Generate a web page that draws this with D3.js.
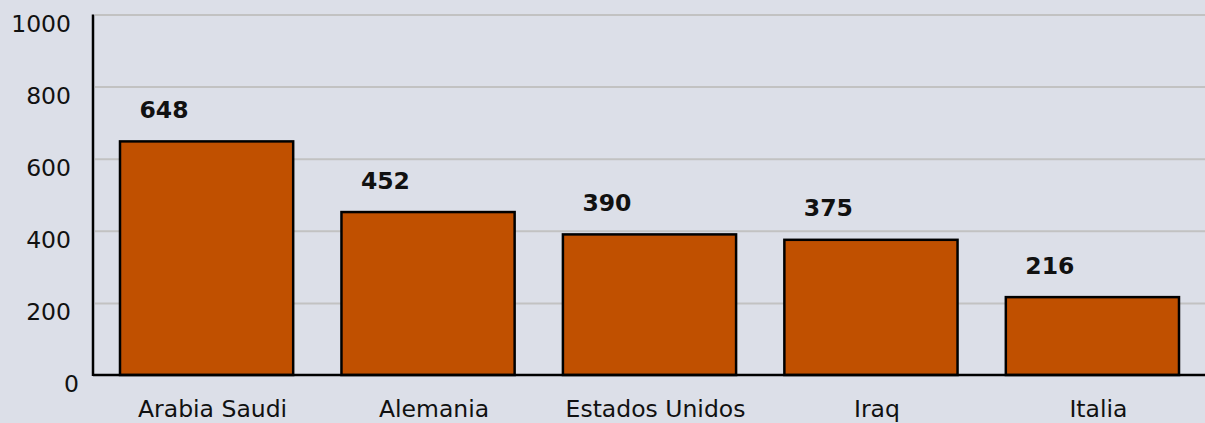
<!DOCTYPE html>
<html>
<head>
<meta charset="utf-8">
<script src="https://cdn.jsdelivr.net/npm/d3@7"></script>
<style>
  html, body { margin: 0; padding: 0; background: #dcdfe8; }
  svg { display: block; font-family: 'DejaVu Sans', Verdana, sans-serif; }
</style>
</head>
<body>
<svg class="svgChart"></svg>
<script>
// data
const countries = ['Arabia Saudi', 'Alemania', 'Estados Unidos', 'Iraq', 'Italia'];
const values = [648, 452, 390, 375, 216];
const yTicks = [0, 200, 400, 600, 800, 1000];

const W = 1205;
const H = 423;
const margin = { top: 14.5, right: 0, bottom: 48, left: 93 };
const baseY = H - margin.bottom;
const fontSize = 23.5;

const svg = d3.select('.svgChart')
  .attr('width', W)
  .attr('height', H);

svg.append('rect')
  .attr('width', W)
  .attr('height', H)
  .attr('fill', '#dcdfe8');

const yScale = d3.scaleLinear()
  .domain([0, 1000])
  .range([baseY, margin.top]);

const xScale = d3.scaleBand()
  .domain(countries)
  .range([120, 1179])
  .paddingInner(0.218)
  .paddingOuter(0);

//gridlines
svg.append('g')
  .attr('class', 'grid')
  .attr('transform', `translate(${margin.left + 2},0)`)
  .call(d3.axisLeft(yScale).tickValues(yTicks.slice(1)).tickSize(-(W - margin.left)).tickFormat(''))
  .call(g => g.select('.domain').remove())
  .selectAll('line')
    .attr('stroke', '#c2c2c2')
    .attr('stroke-width', 2);

//bars
svg.append('g')
  .selectAll('rect')
  .data(values)
  .enter()
  .append('rect')
    .attr('x', (d, i) => xScale(countries[i]))
    .attr('y', d => yScale(d))
    .attr('width', xScale.bandwidth())
    .attr('height', d => yScale(0) - yScale(d))
    .attr('fill', '#c05000')
    .attr('stroke', '#000')
    .attr('stroke-width', 2.5);

//value labels
svg.append('g')
  .selectAll('text')
  .data(values)
  .enter()
  .append('text')
    .attr('x', (d, i) => xScale(countries[i]) + 44)
    .attr('y', d => yScale(d) - 23.5)
    .attr('text-anchor', 'middle')
    .attr('font-size', fontSize)
    .attr('font-weight', 'bold')
    .attr('fill', '#111')
    .text(d => d);

//y axis labels
svg.append('g')
  .attr('class', 'yAxis')
  .attr('transform', 'translate(71,0)')
  .call(d3.axisLeft(yScale).tickValues(yTicks).tickSize(0).tickPadding(0).tickFormat(d3.format('d')))
  .call(g => g.select('.domain').remove())
  .selectAll('text')
    .attr('font-family', "'DejaVu Sans', Verdana, sans-serif")
    .attr('font-size', fontSize)
    .attr('fill', '#111')
    .attr('dy', '0.72em')
    .attr('x', d => d === 0 ? 8 : 0);

//category labels
svg.append('g')
  .selectAll('text')
  .data(countries)
  .enter()
  .append('text')
    .attr('x', d => xScale(d) + xScale.bandwidth() / 2 + 6)
    .attr('y', 416.5)
    .attr('text-anchor', 'middle')
    .attr('font-size', fontSize)
    .attr('fill', '#111')
    .text(d => d);

//axis lines
svg.append('line')
  .attr('x1', margin.left).attr('x2', margin.left)
  .attr('y1', margin.top).attr('y2', baseY + 1)
  .attr('stroke', '#000')
  .attr('stroke-width', 2.5);

svg.append('line')
  .attr('x1', margin.left).attr('x2', W)
  .attr('y1', baseY).attr('y2', baseY)
  .attr('stroke', '#000')
  .attr('stroke-width', 2.5);
</script>
</body>
</html>
